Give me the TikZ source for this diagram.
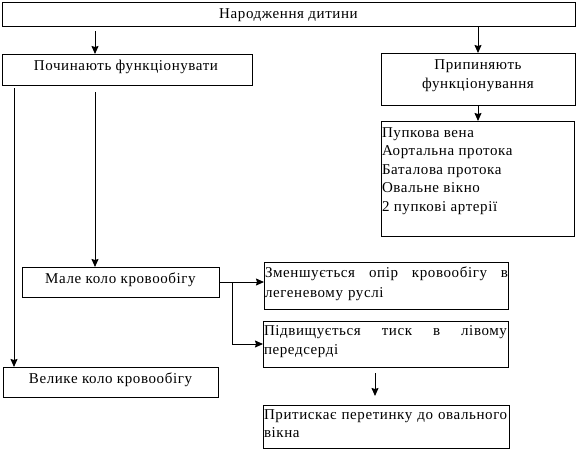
\documentclass[tikz,border=0pt]{standalone}
\usepackage{fontspec}
\setmainfont{Liberation Serif}[LetterSpace=4]
\newfontfamily\diagfont{Liberation Serif}[LetterSpace=4]
\usetikzlibrary{arrows.meta}
\begin{document}
\begin{tikzpicture}[x=1pt,y=-1pt,
  bx/.style={draw,line width=1pt,inner sep=0pt,outer sep=0pt,anchor=north west},
  tx/.style={inner sep=0pt,outer sep=0pt,font=\diagfont\fontsize{15}{19}\selectfont},
  arr/.style={line width=1pt,-{Stealth[length=8pt,width=7pt,inset=1pt]}}]
\useasboundingbox (0,0) rectangle (578,451);
% boxes
\node[bx,minimum width=573pt,minimum height=24pt] (top) at (2,2) {};
\node[bx,minimum width=250pt,minimum height=31pt] (poch) at (2,54) {};
\node[bx,minimum width=194pt,minimum height=52pt] (pryp) at (381,53) {};
\node[bx,minimum width=193pt,minimum height=115pt] (list) at (381,121) {};
\node[bx,minimum width=197pt,minimum height=30pt] (male) at (22,267) {};
\node[bx,minimum width=215pt,minimum height=30pt] (vel) at (3,367) {};
\node[bx,minimum width=244pt,minimum height=47pt] (zmen) at (264,262) {};
\node[bx,minimum width=245pt,minimum height=46pt] (pidv) at (263,321) {};
\node[bx,minimum width=246pt,minimum height=43pt] (pryt) at (263,405) {};
% texts
\node[tx,anchor=base] (ttop) at (288.5,18) {Народження дитини};
\node[tx,anchor=base] (tpoch) at (126,70) {Починають функціонувати};
\node[tx,anchor=north,align=center] (tpryp) at (478,53) {\rule{0pt}{16pt}Припиняють\\функціонування};
\node[tx,anchor=north west,align=left,font=\diagfont\fontsize{15}{18.5}\selectfont] (tlist) at (382,121)
  {\rule{0pt}{16pt}Пупкова вена\\Аортальна протока\\Баталова протока\\Овальне вікно\\2 пупкові артерії};
\node[tx,anchor=base] (tmale) at (120.5,283) {Мале коло кровообігу};
\node[tx,anchor=base] (tvel) at (110.5,383) {Велике коло кровообігу};
\node[tx,anchor=north west,align=left,text width=243pt,font=\diagfont\fontsize{15}{20}\selectfont] (tzmen) at (265,262)
  {\rule{0pt}{15pt}\hbox to 243pt{Зменшується\hfill опір\hfill кровообігу\hfill в}\\легеневому руслі};
\node[tx,anchor=north west,align=left,text width=243pt] (tpidv) at (264,321)
  {\rule{0pt}{14pt}\hbox to 243pt{Підвищується\hfill тиск\hfill в\hfill лівому}\\передсерді};
\node[tx,anchor=north west,align=left,text width=244pt,font=\diagfont\fontsize{15}{18}\selectfont] (tpryt) at (264,405)
  {\rule{0pt}{14pt}Притискає перетинку до овального\\вікна};
% connectors
\coordinate (c1) at (95,31);
\coordinate (c2) at (478,0);
\coordinate (c3) at (95,92);
\coordinate (c4) at (14,88);
\coordinate (br) at (232,0);
\coordinate (c5) at (375,373);
\coordinate (c6) at (375,396);
\draw[arr] (c1) -- (c1 |- poch.north);
\draw[arr] (c2 |- top.south) -- (c2 |- pryp.north);
\draw[arr] (c2 |- pryp.south) -- (c2 |- list.north);
\draw[arr] (c3) -- (c3 |- male.north);
\draw[arr] (c4) -- (c4 |- vel.north);
\draw[arr] (male.east) -- (male.east -| zmen.west);
\draw[arr] (br |- male.east) -- (br |- pidv.west) -- (pidv.west);
\draw[arr] (c5) -- (c6);
\end{tikzpicture}
\end{document}
